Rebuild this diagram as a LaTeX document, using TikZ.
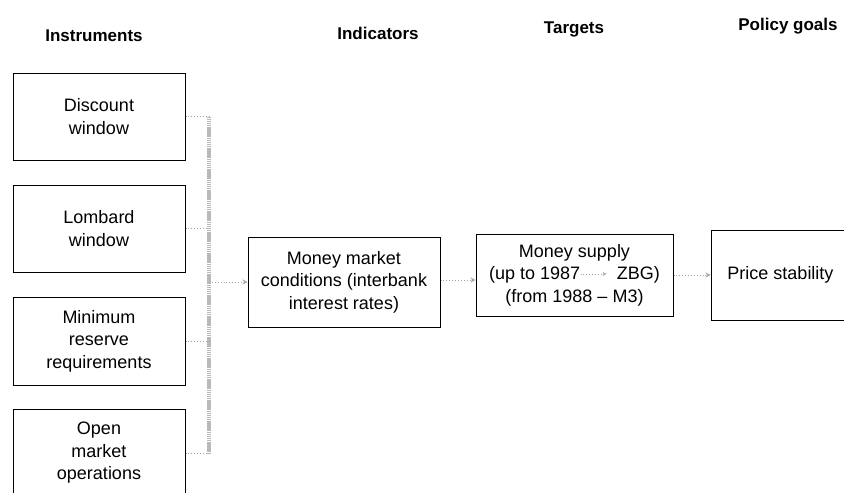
\documentclass[tikz,border=0pt]{standalone}
\usepackage{fontspec}
\setmainfont{Liberation Sans}
\usetikzlibrary{arrows.meta}
\begin{document}
\begin{tikzpicture}[x=1pt,y=-1pt,
  box/.style={draw, line width=1pt, align=center, inner sep=0pt,
    font=\fontsize{18}{22.5}\selectfont},
  heading/.style={font=\fontsize{17}{20}\selectfont\bfseries},
  link/.style={draw=gray!70, line width=0.9pt, dotted},
  linkarrow/.style={link, -{Stealth[length=5pt,width=5pt,fill=gray!60]}},
  busline/.style={draw=gray!55, line width=4pt, dash pattern=on 1.5pt off 0.6pt}]
\useasboundingbox (0,0) rectangle (844,493);

% column headings
\node[heading] (hinst) at (94,36) {Instruments};
\node[heading] (hind) at (378,33) {Indicators};
\node[heading] (htarg) at (574,29) {Targets};
\node[heading] (hgoal) at (788,26) {Policy goals};

% instrument boxes
\node[box, minimum width=172pt, minimum height=87pt] (disc) at (99,116.5) {Discount\\window};
\node[box, minimum width=172pt, minimum height=87pt] (lomb) at (99,228.5) {Lombard\\window};
\node[box, minimum width=172pt, minimum height=88pt] (minr) at (99,341) {Minimum\\reserve\\requirements};
\node[box, minimum width=172pt, minimum height=88pt] (omo) at (99,453) {Open\\market\\operations};

% indicator, target and goal boxes
\node[box, minimum width=192pt, minimum height=90pt] (mm) at (344,282)
  {Money market\\conditions (interbank\\interest rates)};
\node[box, minimum width=197pt, minimum height=82pt] (ms) at (574.5,275)
  {Money supply\\(up to 1987\tikz[baseline=-0.6ex]\draw[link,-{Stealth[length=4pt,width=4pt,fill=gray!60]}] (0,0) -- (26pt,0);\hspace{10pt}ZBG)\\(from 1988 -- M3)};
\node[box, minimum width=139pt, minimum height=90pt] (ps) at (780.5,275) {Price stability};

% collecting bus on the right of the instruments
\coordinate (btop) at (209,116.5);
\coordinate (bbot) at (209,453);
\coordinate (bmid) at (209,282);
\path[busline] (btop) -- (bbot);
\foreach \n in {disc,lomb,minr,omo}
  \path[link] (\n.east) -- (\n.east -| btop);

% transmission chain
\path[linkarrow] (bmid) -- (mm.west);
\path[linkarrow] (mm.east |- 0,280) -- (ms.west |- 0,280);
\path[linkarrow] (ms.east |- 0,275) -- (ps.west |- 0,275);
\end{tikzpicture}
\end{document}
